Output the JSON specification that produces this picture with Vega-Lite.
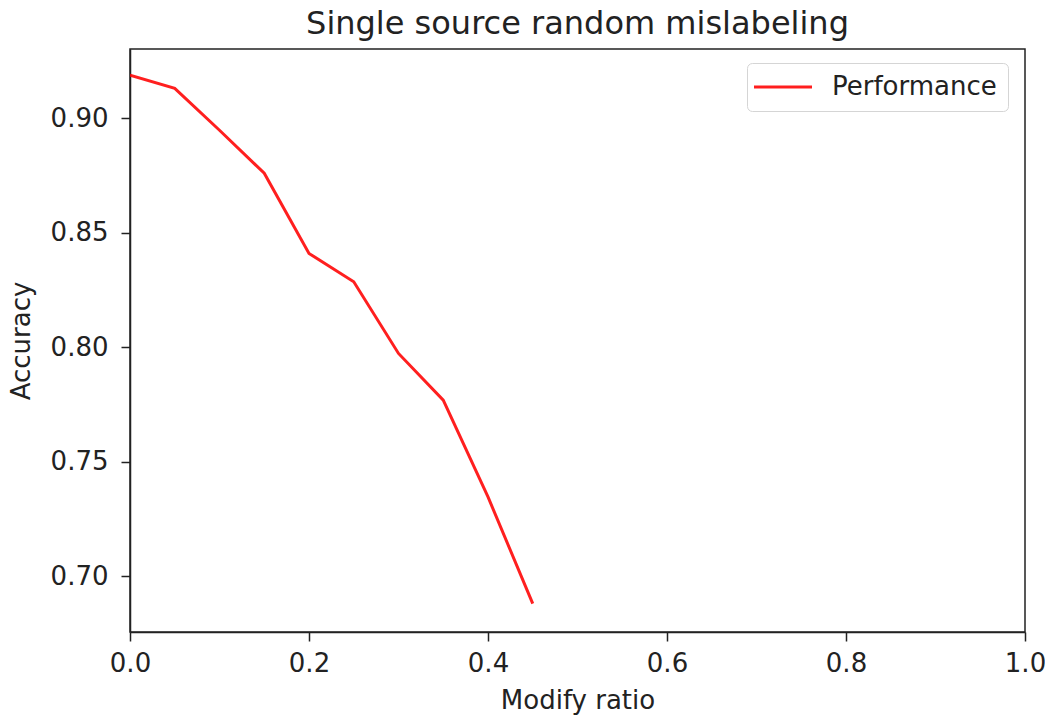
{
  "$schema": "https://vega.github.io/schema/vega-lite/v6.json",
  "width": 895,
  "height": 583,
  "autosize": {"type": "none"},
  "padding": {"left": 130, "top": 49, "right": 20, "bottom": 87},
  "background": "white",
  "title": {
    "text": "Single source random mislabeling",
    "font": "DejaVu Sans",
    "fontSize": 32,
    "fontWeight": "normal",
    "color": "#222222",
    "anchor": "middle",
    "offset": 8
  },
  "config": {
    "font": "DejaVu Sans",
    "view": {"stroke": "#222222", "strokeWidth": 1.5},
    "axis": {
      "domainColor": "#222222",
      "domainWidth": 1.5,
      "tickColor": "#222222",
      "tickWidth": 1.5,
      "tickSize": 9,
      "grid": false,
      "labelFont": "DejaVu Sans",
      "labelFontSize": 26,
      "labelColor": "#222222",
      "titleFont": "DejaVu Sans",
      "titleFontSize": 26,
      "titleFontWeight": "normal",
      "titleColor": "#222222"
    }
  },
  "data": {
    "values": [
      {"ratio": 0.0, "accuracy": 0.9189, "series": "Performance"},
      {"ratio": 0.05, "accuracy": 0.9131, "series": "Performance"},
      {"ratio": 0.1, "accuracy": 0.8948, "series": "Performance"},
      {"ratio": 0.15, "accuracy": 0.876, "series": "Performance"},
      {"ratio": 0.2, "accuracy": 0.841, "series": "Performance"},
      {"ratio": 0.25, "accuracy": 0.8286, "series": "Performance"},
      {"ratio": 0.3, "accuracy": 0.7973, "series": "Performance"},
      {"ratio": 0.35, "accuracy": 0.7769, "series": "Performance"},
      {"ratio": 0.4, "accuracy": 0.7346, "series": "Performance"},
      {"ratio": 0.45, "accuracy": 0.688, "series": "Performance"}
    ]
  },
  "mark": {"type": "line", "strokeWidth": 3, "strokeOpacity": 0.88, "clip": true},
  "encoding": {
    "x": {
      "field": "ratio",
      "type": "quantitative",
      "title": "Modify ratio",
      "scale": {"domain": [0, 1], "nice": false, "zero": false},
      "axis": {"values": [0, 0.2, 0.4, 0.6, 0.8, 1.0], "format": ".1f", "labelPadding": 9, "titlePadding": 11, "labelFlush": false}
    },
    "y": {
      "field": "accuracy",
      "type": "quantitative",
      "title": "Accuracy",
      "scale": {"domain": [0.6756, 0.9303], "nice": false, "zero": false},
      "axis": {"values": [0.7, 0.75, 0.8, 0.85, 0.9], "format": ".2f", "labelPadding": 13, "titlePadding": 16, "labelFlush": false}
    },
    "color": {
      "field": "series",
      "type": "nominal",
      "scale": {"domain": ["Performance"], "range": ["#ff0000"]},
      "legend": {
        "title": null,
        "orient": "none",
        "legendX": 617,
        "legendY": 14,
        "symbolType": "M-2.9,0H2.9",
        "symbolSize": 400,
        "symbolStrokeWidth": 3,
        "symbolOpacity": 0.88,
        "symbolOffset": 12,
        "labelFontSize": 26,
        "labelFont": "DejaVu Sans",
        "labelColor": "#222222",
        "labelOffset": 36,
        "labelLimit": 400,
        "fillColor": "white",
        "strokeColor": "#d5d5d5",
        "cornerRadius": 5,
        "padding": 11
      }
    }
  }
}
